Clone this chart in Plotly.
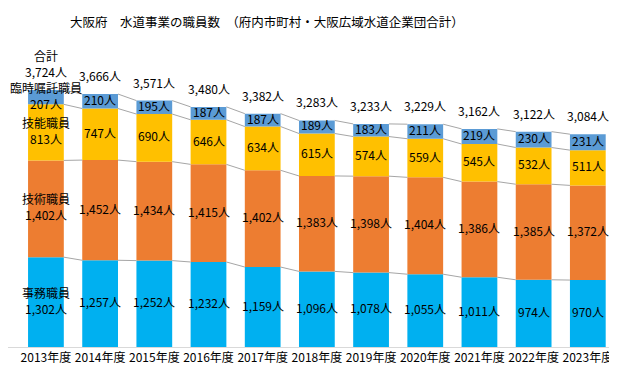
import plotly.graph_objects as go

years = ["2013年度", "2014年度", "2015年度", "2016年度", "2017年度", "2018年度",
         "2019年度", "2020年度", "2021年度", "2022年度", "2023年度"]
jimu = [1302, 1257, 1252, 1232, 1159, 1096, 1078, 1055, 1011, 974, 970]
gijutsu = [1402, 1452, 1434, 1415, 1402, 1383, 1398, 1404, 1386, 1385, 1372]
gino = [813, 747, 690, 646, 634, 615, 574, 559, 545, 532, 511]
rinji = [207, 210, 195, 187, 187, 189, 183, 211, 219, 230, 231]
total = [3724, 3666, 3571, 3480, 3382, 3283, 3233, 3229, 3162, 3122, 3084]

series = [
    ("事務職員", jimu, "#00B0F0"),
    ("技術職員", gijutsu, "#ED7D31"),
    ("技能職員", gino, "#FFC000"),
    ("臨時嘱託職員", rinji, "#5B9BD5"),
]

FONT = "Noto Sans CJK JP"
BW = 0.66
xs = list(range(len(years)))

fig = go.Figure()

base = [0] * len(years)
levels = []
for name, vals, color in series:
    fig.add_trace(go.Bar(x=xs, y=vals, base=base, width=BW, marker=dict(color=color, line=dict(width=0)),
                         name=name, showlegend=False, hoverinfo="skip"))
    for i, v in enumerate(vals):
        t = f"{v:,}人"
        if i == 0:
            t = f"{name}<br>{t}"
        fig.add_annotation(x=i, y=base[i] + v / 2, text=t, showarrow=False, yanchor="middle", yshift=2,
                           font=dict(family=FONT, size=12, color="#000000"))
    base = [b + v for b, v in zip(base, vals)]
    levels.append(list(base))

# series lines connecting segment tops
for lvl in levels:
    lx, ly = [], []
    for i in range(len(years) - 1):
        lx += [i + BW / 2, i + 1 - BW / 2, None]
        ly += [lvl[i], lvl[i + 1], None]
    fig.add_trace(go.Scatter(x=lx, y=ly, mode="lines", line=dict(color="#A6A6A6", width=1),
                             showlegend=False, hoverinfo="skip"))

top = levels[-1]
for i, t in enumerate(total):
    txt = f"{t:,}人"
    if i == 0:
        txt = f"合計<br>{txt}"
    fig.add_annotation(x=i, y=top[i], text=txt, showarrow=False, yanchor="bottom", yshift=8,
                       font=dict(family=FONT, size=12, color="#000000"))

fig.update_layout(
    width=617, height=370,
    margin=dict(l=0, r=9, t=63, b=31, autoexpand=False),
    paper_bgcolor="white", plot_bgcolor="white",
    barmode="overlay",
    title=dict(text="大阪府　水道事業の職員数　（府内市町村・大阪広域水道企業団合計）",
               x=259 / 617, xanchor="center", y=1 - 15 / 370, yanchor="middle",
               font=dict(family=FONT, size=12.5, color="#000000")),
    font=dict(family=FONT),
)
fig.update_xaxes(range=[-0.70, 10.52], tickmode="array", tickvals=xs, ticktext=years,
                 showgrid=False, zeroline=False, showline=True, linecolor="#D9D9D9", linewidth=1,
                 ticks="", automargin=False, tickfont=dict(family=FONT, size=12, color="#000000"))
fig.update_yaxes(range=[0, 4000], visible=False, showgrid=False, automargin=False)

fig.write_html("out.html")
